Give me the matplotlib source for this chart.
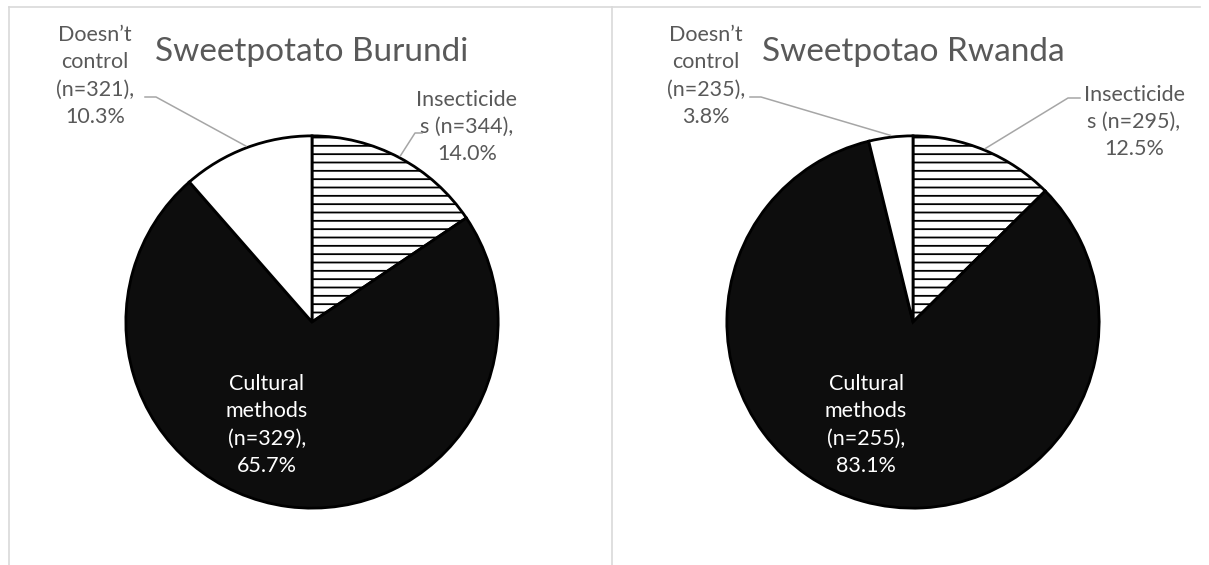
import matplotlib
matplotlib.use("Agg")
import matplotlib.pyplot as plt
import numpy as np

plt.rcParams['font.family'] = ['Lato', 'DejaVu Sans']
plt.rcParams['hatch.linewidth'] = 1.3

# control methods, clockwise from 12 o'clock
methods = ['Insecticides', 'Cultural methods', "Doesn\u2019t control"]
titles = ['Sweetpotato Burundi', 'Sweetpotao Rwanda']
burundi_n = [344, 329, 321]
burundi_pct = [14.0, 65.7, 10.3]
rwanda_n = [295, 255, 235]
rwanda_pct = [12.5, 83.1, 3.8]

W, H = 1209, 565
fig = plt.figure(figsize=(W / 100, H / 100), dpi=100)

txt = '#595959'
lead = '#a6a6a6'
R = 188


def label(m, n, p):
    if m == 'Insecticides':
        return 'Insecticide\ns (n=%d),\n%.1f%%' % (n, p)
    if m == 'Cultural methods':
        return 'Cultural\nmethods\n(n=%d),\n%.1f%%' % (n, p)
    return 'Doesn\u2019t\ncontrol\n(n=%d),\n%.1f%%' % (n, p)


def draw_pie(cx, cy, pct):
    ax = fig.add_axes([(cx - R) / W, (H - cy - R) / H, 2 * R / W, 2 * R / H])
    wedges, _ = ax.pie(pct, startangle=90, counterclock=False, radius=1,
                       colors=['white', '#0d0d0d', 'white'],
                       wedgeprops=dict(edgecolor='black', linewidth=2))
    wedges[0].set_hatch('--')
    ax.set_xlim(-1.01, 1.01)
    ax.set_ylim(-1.01, 1.01)
    ax.axis('off')


draw_pie(312, 322, burundi_pct)
draw_pie(913, 322, rwanda_pct)

# overlay in pixel coordinates for borders, titles and labels
top = fig.add_axes([0, 0, 1, 1])
top.set_xlim(0, W)
top.set_ylim(H, 0)
top.axis('off')
top.patch.set_alpha(0)

grey = '#d9d9d9'
top.plot([9, 1200], [7, 7], color=grey, lw=1.2)
top.plot([9, 9], [7, H], color=grey, lw=1.2)
top.plot([612, 612], [7, H], color=grey, lw=1.2)


def annotate(cx, cy, title, n, pct, pos, leaders):
    top.text(cx, 52, title, ha='center', va='center', fontsize=24, color=txt)
    total = sum(pct)
    start = 0.0
    for i, m in enumerate(methods):
        frac = pct[i] / total * 360
        mid = np.radians(start + frac / 2)
        start += frac
        x, y = pos[i]
        col = 'white' if m == 'Cultural methods' else txt
        top.text(x, y, label(m, n[i], pct[i]), ha='center', va='center',
                 fontsize=15.5, color=col, linespacing=1.45)
        if leaders[i] is not None:
            # short horizontal stub, then straight to the wedge's mid angle
            (x0, y0), (x1, y1) = leaders[i]
            ex, ey = cx + R * np.sin(mid), cy - R * np.cos(mid)
            top.plot([x0, x1, ex], [y0, y1, ey], color=lead, lw=1.1)


annotate(312, 322, titles[0], burundi_n, burundi_pct,
         [(467, 127), (267, 425), (95, 76)],
         [((422, 133), (415, 133)), None, ((145, 97), (156, 97))])
annotate(913, 322, titles[1], rwanda_n, rwanda_pct,
         [(1134, 122), (866, 425), (706, 76)],
         [((1080, 98), (1068, 98)), None, ((750, 97), (761, 97))])

fig.savefig('out.png', dpi=100)
